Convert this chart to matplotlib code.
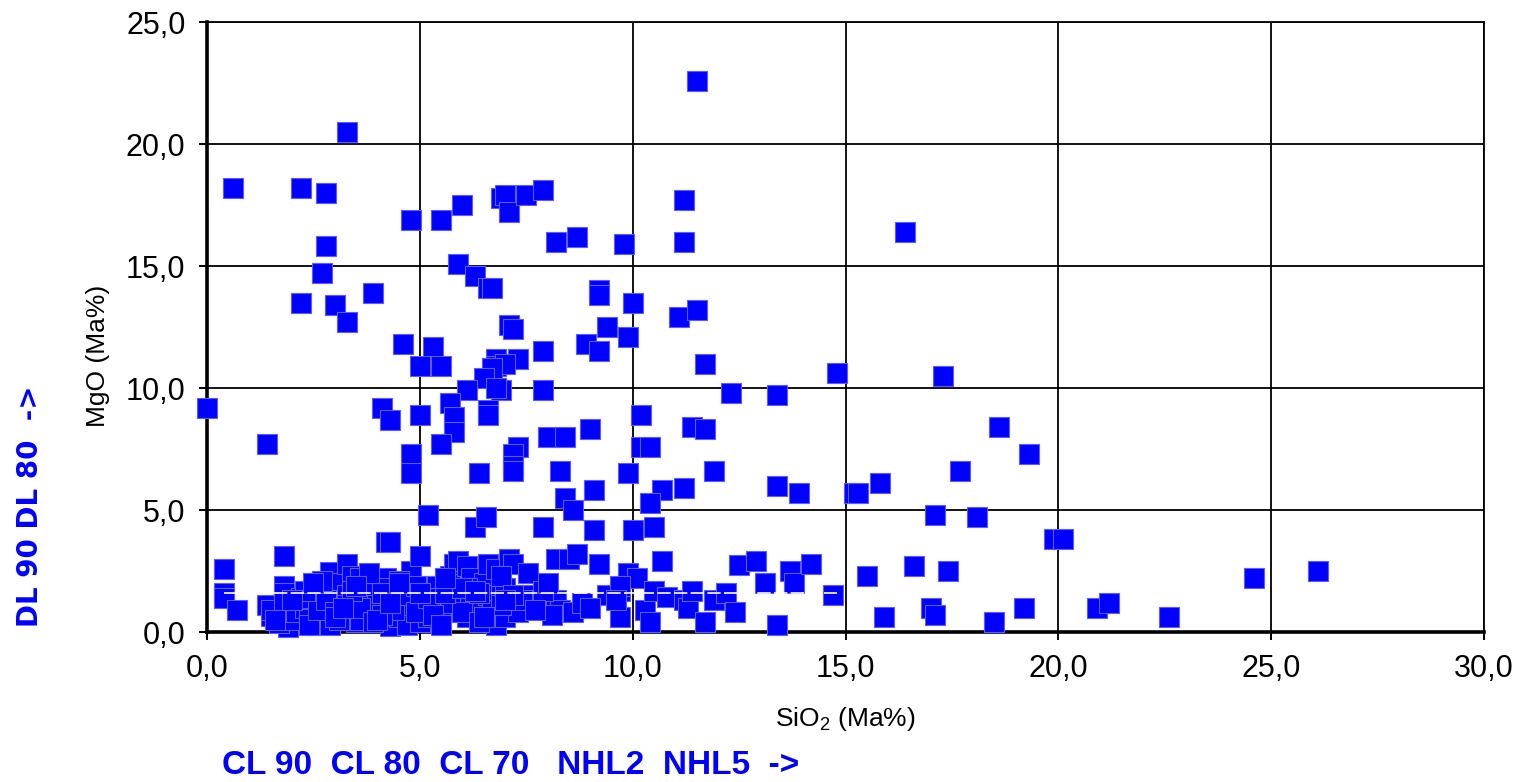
import matplotlib
matplotlib.use("Agg")
import matplotlib.pyplot as plt
from matplotlib.ticker import FuncFormatter

# ---- data: SiO2 (x) vs MgO (y) ----
sio2_high = [11.5, 3.3, 0.6, 2.2, 2.8, 2.8, 2.7, 2.2, 3.0, 3.3, 3.9, 4.8, 5.5, 6.0, 5.9,
             6.3, 6.6, 6.7, 6.9, 7.0, 7.1, 7.5, 7.9, 8.2, 8.7, 9.8, 11.2, 11.2, 16.4, 9.2,
             9.2, 10.0, 9.4, 7.1, 7.2, 7.3, 6.8, 6.8, 7.0, 6.7, 6.5, 7.9, 8.9, 9.2, 9.9,
             11.1, 11.5, 11.7, 4.6, 5.3, 5.0, 5.5, 6.1, 6.9, 6.8, 7.9, 5.7, 5.8, 5.8, 4.1,
             4.3, 5.0, 6.6, 6.6, 5.5, 4.8, 4.8, 1.4, 0.0, 7.3, 7.2, 7.2, 7.2, 6.4, 8.0,
             8.4, 9.0, 10.2, 10.2, 10.4, 9.9, 8.3, 11.4, 11.7, 12.3, 13.4, 14.8, 17.3, 11.9, 10.7,
             11.2, 10.4, 10.5, 10.0, 13.4, 13.9, 15.2, 15.3, 15.8, 17.7, 18.6, 19.3, 17.1, 18.1, 19.9,
             20.1, 8.4, 8.6, 9.1, 9.1, 7.9, 6.3, 6.55, 5.2, 4.2, 4.3]
mgo_high = [22.6, 20.5, 18.2, 18.2, 18.0, 15.8, 14.7, 13.5, 13.4, 12.7, 13.9, 16.9, 16.9, 17.5, 15.1,
            14.6, 14.1, 14.1, 17.8, 17.9, 17.2, 17.9, 18.1, 16.0, 16.2, 15.9, 17.7, 16.0, 16.4, 14.0,
            13.8, 13.5, 12.5, 12.6, 12.4, 11.2, 11.2, 10.9, 11.0, 10.8, 10.4, 11.5, 11.8, 11.5, 12.1,
            12.9, 13.2, 11.0, 11.8, 11.7, 10.9, 10.9, 9.9, 9.9, 10.0, 9.9, 9.4, 8.8, 8.2, 9.2,
            8.7, 8.9, 9.1, 8.9, 7.7, 7.3, 6.5, 7.7, 9.2, 7.6, 7.3, 6.8, 6.6, 6.5, 8.0,
            8.0, 8.3, 8.9, 7.6, 7.6, 6.5, 6.6, 8.4, 8.3, 9.8, 9.7, 10.6, 10.5, 6.6, 5.8,
            5.9, 5.3, 4.3, 4.2, 6.0, 5.7, 5.7, 5.7, 6.1, 6.6, 8.4, 7.3, 4.8, 4.7, 3.8,
            3.8, 5.5, 5.0, 5.8, 4.2, 4.3, 4.3, 4.7, 4.8, 3.7, 3.7]

sio2_low = [0.4, 0.4, 0.4, 0.7, 1.4, 1.5, 1.5, 1.8, 1.8, 1.8, 1.8, 1.9, 1.7, 2.0, 2.1,
            2.3, 2.4, 2.5, 2.6, 2.65, 2.7, 2.8, 2.9, 2.9, 2.9, 3.0, 3.1, 3.2, 3.3, 3.3,
            3.35, 3.4, 3.5, 3.5, 3.6, 3.6, 3.7, 3.8, 3.9, 4.0, 4.2, 4.25, 4.3, 4.4, 4.5,
            4.6, 4.7, 4.8, 4.9, 5.0, 5.0, 5.1, 5.2, 5.3, 5.4, 5.5, 5.7, 5.8, 5.9, 5.9,
            6.0, 6.1, 6.1, 6.2, 6.3, 6.5, 6.6, 6.6, 6.7, 6.8, 6.8, 6.9, 7.0, 7.0, 7.1,
            7.2, 7.3, 7.55, 7.6, 7.8, 8.2, 8.2, 8.3, 8.5, 8.6, 8.7, 9.2, 9.4, 9.7, 9.7,
            9.9, 10.1, 9.7, 10.3, 10.4, 10.5, 10.7, 10.8, 11.2, 11.3, 11.4, 11.7, 11.9, 12.2, 12.4,
            12.5, 12.9, 13.1, 13.4, 13.7, 13.8, 14.2, 14.7, 15.5, 15.9, 16.6, 17.0, 17.1, 17.4, 18.5,
            19.2, 20.9, 21.2, 22.6, 24.6, 26.1,
            # fill of the dense cluster
            1.6, 2.2, 2.4, 2.6, 2.8, 3.1, 3.3, 3.6, 3.9, 4.1, 4.4, 4.6, 4.9, 5.2, 5.5,
            5.7, 6.0, 6.4, 6.9, 7.4, 2.3, 2.7, 3.0, 3.4, 3.8, 4.1, 4.5, 4.9, 5.3, 5.6,
            6.1, 6.4, 6.9, 7.2, 7.9, 8.1, 8.8, 9.0, 9.6, 7.7, 8.0,
            2.0, 2.5, 3.0, 3.5, 4.0, 4.5, 5.0, 5.5, 6.0, 6.5, 7.0, 3.2, 4.3, 5.6, 6.3]
mgo_low = [2.6, 1.6, 1.4, 0.9, 1.1, 0.65, 0.9, 3.1, 1.9, 1.6, 1.2, 0.2, 0.35, 0.5, 0.8,
           1.0, 0.6, 1.35, 0.3, 1.8, 1.0, 0.5, 2.45, 1.6, 0.3, 1.2, 2.0, 0.7, 2.8, 1.5,
           0.9, 2.3, 1.9, 0.4, 2.2, 0.5, 1.3, 1.7, 0.8, 1.1, 2.2, 1.8, 0.25, 1.4, 0.6,
           1.0, 0.3, 2.5, 1.5, 3.1, 0.4, 1.2, 0.6, 1.9, 1.9, 1.0, 2.3, 2.8, 2.9, 1.0,
           1.4, 2.7, 0.6, 2.2, 1.2, 2.0, 2.8, 1.5, 0.9, 0.3, 2.6, 1.8, 0.6, 1.8, 3.0,
           2.8, 0.8, 2.4, 1.5, 1.2, 1.3, 3.0, 0.9, 3.0, 0.8, 3.2, 2.8, 1.5, 1.7, 0.6,
           2.4, 2.2, 1.9, 0.9, 0.4, 1.7, 2.9, 1.45, 1.3, 1.0, 1.7, 0.4, 1.3, 1.6, 0.8,
           2.75, 2.9, 2.0, 0.3, 2.5, 2.0, 2.8, 1.5, 2.3, 0.6, 2.7, 1.0, 0.7, 2.5, 0.4,
           1.0, 1.0, 1.2, 0.6, 2.2, 2.5,
           0.5, 1.4, 0.3, 0.9, 1.3, 0.5, 1.1, 1.0, 0.4, 1.6, 0.9, 1.5, 0.8, 1.4, 0.5,
           1.2, 0.8, 1.6, 1.1, 1.3, 1.7, 2.1, 0.8, 1.7, 2.4, 0.7, 2.1, 1.9, 0.7, 1.6,
           1.8, 0.4, 2.3, 1.5, 1.7, 0.7, 1.2, 1.0, 1.3, 0.9, 2.0,
           1.3, 2.0, 0.6, 1.9, 0.5, 2.0, 1.6, 0.3, 1.8, 0.6, 1.3, 1.0, 1.2, 2.2, 1.7]

# white reference line drawn over the markers
ref_x = [0.4, 14.8]
ref_y = [1.6, 1.6]

xticks = [0, 5, 10, 15, 20, 25, 30]
yticks = [0, 5, 10, 15, 20, 25]

plt.rcParams["font.family"] = ["Liberation Sans", "DejaVu Sans"]
plt.rcParams["mathtext.default"] = "regular"

fig = plt.figure(figsize=(15.19, 7.82), dpi=100)
ax = fig.add_axes([207 / 1519, 1 - 632 / 782, 1277 / 1519, 610 / 782])

ax.scatter(sio2_high + sio2_low, mgo_high + mgo_low, marker="s", s=190,
           c="#0000ff", edgecolors="#5c5cff", linewidths=0.8, zorder=3, clip_on=False)
ax.plot(ref_x, ref_y, color="white", lw=1.2, ls=(0, (8, 2)), zorder=4)

ax.set_xlim(0, 30)
ax.set_ylim(0, 25)
ax.set_xticks(xticks)
ax.set_yticks(yticks)
fmt = FuncFormatter(lambda v, p: f"{v:.1f}".replace(".", ","))
ax.xaxis.set_major_formatter(fmt)
ax.yaxis.set_major_formatter(fmt)
ax.tick_params(direction="out", length=5.5, width=1.4, labelsize=22, pad=10, colors="black")
ax.grid(True, color="black", lw=1.3, zorder=1)
ax.set_axisbelow(True)
for side in ["top", "right"]:
    ax.spines[side].set_linewidth(1.3)
for side in ["left", "bottom"]:
    ax.spines[side].set_linewidth(2.6)

ax.set_xlabel("SiO$_2$ (Ma%)", fontsize=19)
ax.xaxis.set_label_coords(0.5, -0.12)
ax.set_ylabel("MgO (Ma%)", fontsize=19)
ax.yaxis.set_label_coords(-0.076, 0.452)

fig.text(222 / 1519, 1 - 766 / 782, "CL 90  CL 80  CL 70   NHL2  NHL5  ->",
         color="#0000ff", fontsize=24, fontweight="bold", va="center", ha="left")
fig.text(30 / 1519, 1 - 506 / 782, "DL 90 DL 80  ->", color="#0000ff", fontsize=20,
         fontweight="bold", rotation=90, va="center", ha="center",
         family=["DejaVu Sans"])

fig.savefig("out.png", dpi=100)
